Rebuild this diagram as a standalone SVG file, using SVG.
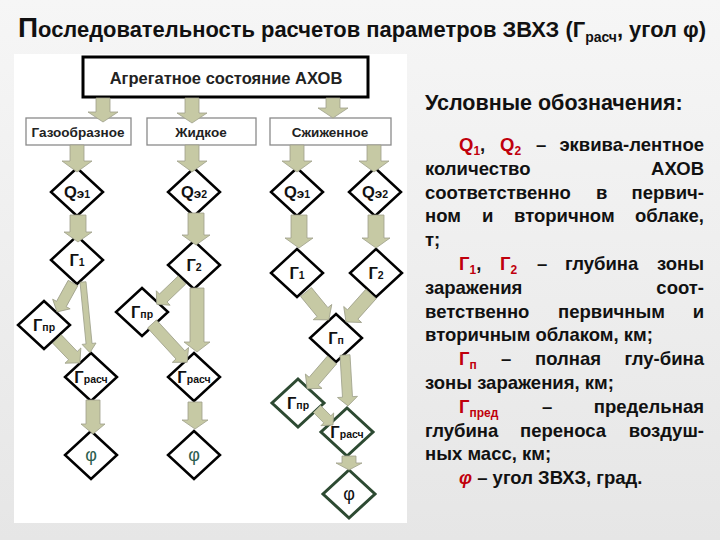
<svg xmlns="http://www.w3.org/2000/svg" width="720" height="540" viewBox="0 0 720 540">
<defs>
<linearGradient id="bg" x1="0" y1="0" x2="0" y2="1">
<stop offset="0" stop-color="#f6f6f6"/>
<stop offset="1" stop-color="#e6e6e6"/>
</linearGradient>
<style>
.t{font-family:"Liberation Sans",Arial,sans-serif;font-weight:bold;fill:#111}
.box{fill:#fff;stroke:#8a8a8a;stroke-width:1.3}
.bt{font-family:"Liberation Sans",Arial,sans-serif;font-weight:bold;font-size:13.5px;fill:#222;text-anchor:middle}
.d{fill:#fff;stroke:#000;stroke-width:2.5}
.dg{fill:#fff;stroke:#2d4a32;stroke-width:3}
.dt{font-family:"Liberation Sans",Arial,sans-serif;font-weight:bold;font-size:16.5px;fill:#111;text-anchor:middle}
.s{font-size:10.5px}
.e{font-size:13.5px}
.ph{font-family:"Liberation Sans",Arial,sans-serif;font-size:18px;fill:#2e6150;text-anchor:middle}
.ar{fill:#c6c9a4;stroke:#9ea08a;stroke-width:0.8}
.lg{font-family:"Liberation Sans",Arial,sans-serif;font-weight:bold;font-size:18.5px;fill:#111}
.en{text-anchor:end}
.r{fill:#c0000c}
.rs{fill:#c0000c;font-size:12px}
</style>
</defs>
<rect x="0" y="0" width="720" height="540" fill="url(#bg)"/>
<rect x="14" y="54" width="393" height="469" fill="#fff"/>

<text class="t" x="18" y="37" font-size="22" textLength="688" lengthAdjust="spacingAndGlyphs"><tspan font-size="28">П</tspan>оследовательность расчетов параметров ЗВХЗ (Г<tspan font-size="14" dy="5">расч</tspan><tspan dy="-5">, угол φ)</tspan></text>

<g id="top">
<rect x="83" y="57" width="285" height="40" fill="#fff" stroke="#000" stroke-width="3"/>
<text class="bt" x="226" y="84" style="font-size:16.5px">Агрегатное состояние АХОВ</text>
</g>
<g id="gas"><rect class="box" x="26" y="118" width="105" height="27"/><text class="bt" x="78" y="137">Газообразное</text></g>
<g id="liquid"><rect class="box" x="147" y="118" width="109" height="27"/><text class="bt" x="201" y="137">Жидкое</text></g>
<g id="liquefied"><rect class="box" x="270" y="118" width="121" height="27"/><text class="bt" x="330" y="137">Сжиженное</text></g>

<g id="c1-q"><polygon class="d" points="77,168 103,192 77,216 51,192"/><text class="dt" x="77" y="198">Q<tspan class="e">э</tspan><tspan class="s">1</tspan></text></g>
<g id="c1-g1"><polygon class="d" points="77,236 103,260 77,284 51,260"/><text class="dt" x="77" y="266">Г<tspan class="s">1</tspan></text></g>
<g id="c1-gpr"><polygon class="d" points="44,301 70,325 44,349 18,325"/><text class="dt" x="44" y="331">Г<tspan class="s">пр</tspan></text></g>
<g id="c1-gr"><polygon class="d" points="91,353 117,377 91,401 65,377"/><text class="dt" x="91" y="383">Г<tspan class="s">расч</tspan></text></g>
<g id="c1-phi"><polygon class="d" points="91,431 117,455 91,479 65,455"/><text class="ph" x="91" y="461">φ</text></g>

<g id="c2-q"><polygon class="d" points="194,168 220,192 194,216 168,192"/><text class="dt" x="194" y="198">Q<tspan class="e">э</tspan><tspan class="s">2</tspan></text></g>
<g id="c2-g2"><polygon class="d" points="194,241 220,265 194,289 168,265"/><text class="dt" x="194" y="271">Г<tspan class="s">2</tspan></text></g>
<g id="c2-gpr"><polygon class="d" points="142,288 168,312 142,336 116,312"/><text class="dt" x="142" y="318">Г<tspan class="s">пр</tspan></text></g>
<g id="c2-gr"><polygon class="d" points="194,353 220,377 194,401 168,377"/><text class="dt" x="194" y="383">Г<tspan class="s">расч</tspan></text></g>
<g id="c2-phi"><polygon class="d" points="194,431 220,455 194,479 168,455"/><text class="ph" x="194" y="461">φ</text></g>

<g id="c3-q1"><polygon class="d" points="297,168 323,192 297,216 271,192"/><text class="dt" x="297" y="198">Q<tspan class="e">э</tspan><tspan class="s">1</tspan></text></g>
<g id="c3-q2"><polygon class="d" points="375,168 401,192 375,216 349,192"/><text class="dt" x="375" y="198">Q<tspan class="e">э</tspan><tspan class="s">2</tspan></text></g>
<g id="c3-g1"><polygon class="d" points="297,249 323,273 297,297 271,273"/><text class="dt" x="297" y="279">Г<tspan class="s">1</tspan></text></g>
<g id="c3-g2"><polygon class="d" points="376,249 402,273 376,297 350,273"/><text class="dt" x="376" y="279">Г<tspan class="s">2</tspan></text></g>
<g id="c3-gp"><polygon class="d" points="336,314 362,338 336,362 310,338"/><text class="dt" x="336" y="344">Г<tspan class="s">п</tspan></text></g>
<g id="c3-gpr"><polygon class="dg" points="298,379 324,403 298,427 272,403"/><text class="dt" x="298" y="409">Г<tspan class="s">пр</tspan></text></g>
<g id="c3-gr"><polygon class="dg" points="347,408 373,432 347,456 321,432"/><text class="dt" x="347" y="438">Г<tspan class="s">расч</tspan></text></g>
<g id="c3-phi"><polygon class="dg" points="349,470 375,494 349,518 323,494"/><text class="ph" x="349" y="500" style="fill:#111">φ</text></g>

<g id="connectors">
<path class="ar" transform="translate(103 98)" d="M-7 0L7 0L7 14L15 14L0 24L-15 14L-7 14Z"/>
<path class="ar" transform="translate(192 98)" d="M-7 0L7 0L7 15L15 15L0 25L-15 15L-7 15Z"/>
<path class="ar" transform="translate(333 98)" d="M-7 0L7 0L7 10L15 10L0 20L-15 10L-7 10Z"/>
<path class="ar" transform="translate(77 145)" d="M-7 0L7 0L7 16L15 16L0 27L-15 16L-7 16Z"/>
<path class="ar" transform="translate(192 145)" d="M-7 0L7 0L7 16L15 16L0 27L-15 16L-7 16Z"/>
<path class="ar" transform="translate(297 145)" d="M-7 0L7 0L7 16L15 16L0 27L-15 16L-7 16Z"/>
<path class="ar" transform="translate(374 145)" d="M-7 0L7 0L7 16L15 16L0 27L-15 16L-7 16Z"/>
<path class="ar" transform="translate(78 215)" d="M-8 0L8 0L8 17L14 17L0 27L-14 17L-8 17Z"/>
<path class="ar" transform="translate(196 213)" d="M-8 0L8 0L8 22L14 22L0 32L-14 22L-8 22Z"/>
<path class="ar" transform="translate(299 215)" d="M-8 0L8 0L8 23L14 23L0 33L-14 23L-8 23Z"/>
<path class="ar" transform="translate(376 215)" d="M-8 0L8 0L8 23L14 23L0 33L-14 23L-8 23Z"/>
<path class="ar" transform="translate(73 283) rotate(28.9)" d="M-5.5 0L5.5 0L5.5 24L10 24L0 33L-10 24L-5.5 24Z"/>
<path class="ar" transform="translate(83 282) rotate(-5.6)" d="M-3 0L3 0L3 62L7 62L0 71L-7 62L-3 62Z"/>
<path class="ar" transform="translate(57 339) rotate(-43.8)" d="M-6 0L6 0L6 23L11 23L0 33L-11 23L-6 23Z"/>
<path class="ar" transform="translate(93 400)" d="M-7 0L7 0L7 24L12 24L0 34L-12 24L-7 24Z"/>
<path class="ar" transform="translate(182 280) rotate(46.2)" d="M-5.5 0L5.5 0L5.5 26L10 26L0 35L-10 26L-5.5 26Z"/>
<path class="ar" transform="translate(197 288)" d="M-7 0L7 0L7 54L13 54L0 64L-13 54L-7 54Z"/>
<path class="ar" transform="translate(152 324) rotate(-42.6)" d="M-6 0L6 0L6 42L11 42L0 52L-11 42L-6 42Z"/>
<path class="ar" transform="translate(195 402)" d="M-7 0L7 0L7 18L13 18L0 27L-13 18L-7 18Z"/>
<path class="ar" transform="translate(306 292) rotate(-39.4)" d="M-7 0L7 0L7 26L12 26L0 36L-12 26L-7 26Z"/>
<path class="ar" transform="translate(371 294) rotate(41.8)" d="M-7 0L7 0L7 27.5L12 27.5L0 37.5L-12 27.5L-7 27.5Z"/>
<path class="ar" transform="translate(332 360) rotate(40.8)" d="M-6 0L6 0L6 28L11 28L0 38L-11 28L-6 28Z"/>
<path class="ar" transform="translate(345 355) rotate(-3.4)" d="M-5 0L5 0L5 42L10 42L0 51L-10 42L-5 42Z"/>
<path class="ar" transform="translate(317 409) rotate(-45)" d="M-5 0L5 0L5 14.6L9 14.6L0 22.6L-9 14.6L-5 14.6Z"/>
<path class="ar" transform="translate(349 456)" d="M-7 0L7 0L7 7L13 7L0 14L-13 7L-7 7Z"/>
</g>

<g id="legend">
<text class="lg" x="425" y="110" style="font-size:21.5px">Условные обозначения:</text>

<text class="lg" y="150.5"><tspan x="459" class="r">Q</tspan><tspan class="rs" dy="4">1</tspan><tspan dy="-4">,</tspan><tspan x="500" class="r">Q</tspan><tspan class="rs" dy="4">2</tspan><tspan x="536" dy="-4">–</tspan></text>
<text class="lg en" x="704" y="150.5">эквива-лентное</text>

<text class="lg" x="425" y="174.5">количество</text>
<text class="lg en" x="704" y="174.5">АХОВ</text>

<text class="lg" y="198.5"><tspan x="425">соответственно</tspan><tspan x="596">в</tspan></text>
<text class="lg en" x="704" y="198.5">первич-</text>

<text class="lg" y="221.5"><tspan x="425">ном</tspan><tspan x="482">и</tspan><tspan x="514">вторичном</tspan></text>
<text class="lg en" x="704" y="221.5">облаке,</text>

<text class="lg" x="425" y="245.5">т;</text>

<text class="lg" y="269.5"><tspan x="459" class="r">Г</tspan><tspan class="rs" dy="4">1</tspan><tspan dy="-4">,</tspan><tspan x="500" class="r">Г</tspan><tspan class="rs" dy="4">2</tspan><tspan x="537" dy="-4">–</tspan><tspan x="565">глубина</tspan></text>
<text class="lg en" x="704" y="269.5">зоны</text>

<text class="lg" x="425" y="293.5">заражения</text>
<text class="lg en" x="704" y="293.5">соот-</text>

<text class="lg" y="317.5"><tspan x="425">ветственно</tspan><tspan x="558">первичным</tspan></text>
<text class="lg en" x="704" y="317.5">и</text>

<text class="lg" x="425" y="340.5">вторичным облаком, км;</text>

<text class="lg" y="364.5"><tspan x="459" class="r">Г</tspan><tspan class="rs" dy="4">п</tspan><tspan x="501" dy="-4">–</tspan><tspan x="535">полная</tspan></text>
<text class="lg en" x="704" y="364.5">глу-бина</text>

<text class="lg" x="425" y="388.5">зоны заражения, км;</text>

<text class="lg" y="412.5"><tspan x="459" class="r">Г</tspan><tspan class="rs" dy="4">пред</tspan><tspan x="542" dy="-4">–</tspan></text>
<text class="lg en" x="704" y="412.5">предельная</text>

<text class="lg" y="436.5"><tspan x="425">глубина</tspan><tspan x="520">переноса</tspan></text>
<text class="lg en" x="704" y="436.5">воздуш-</text>

<text class="lg" x="425" y="459.5">ных масс, км;</text>

<text class="lg" x="459" y="483.5"><tspan class="r" font-style="italic">φ</tspan> – угол ЗВХЗ, град.</text>
</g>
</svg>
